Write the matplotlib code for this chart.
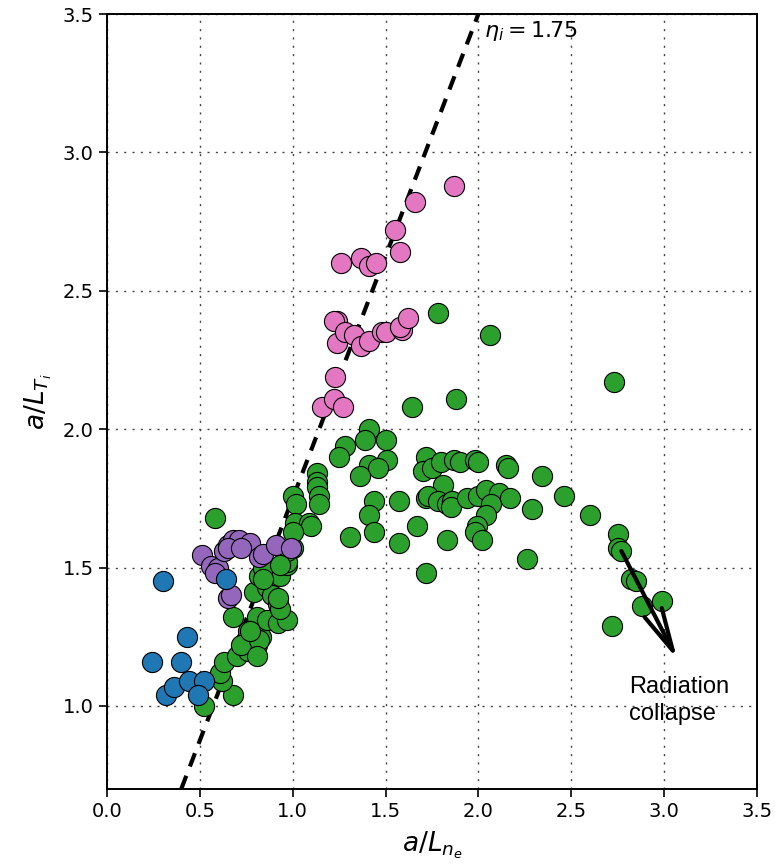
import matplotlib
matplotlib.use("Agg")
import matplotlib.pyplot as plt
import numpy as np

# a/L_ne, a/L_Ti for each group
blue_x = [0.30, 0.43, 0.24, 0.40, 0.32, 0.36, 0.44, 0.52, 0.49, 0.64]
blue_y = [1.45, 1.25, 1.16, 1.16, 1.04, 1.07, 1.09, 1.09, 1.04, 1.46]

purple_x = [0.51, 0.56, 0.60, 0.58, 0.65, 0.67, 0.63, 0.65, 0.68, 0.71, 0.77,
            0.82, 0.84, 0.91, 0.99, 0.65, 0.72]
purple_y = [1.545, 1.505, 1.50, 1.48, 1.39, 1.40, 1.56, 1.58, 1.60, 1.60, 1.59,
            1.54, 1.55, 1.58, 1.57, 1.57, 1.57]

pink_x = [1.87, 1.66, 1.55, 1.58, 1.26, 1.37, 1.41, 1.45, 1.24, 1.22, 1.24, 1.28,
          1.33, 1.37, 1.41, 1.48, 1.50, 1.59, 1.58, 1.62, 1.23, 1.16, 1.22, 1.27]
pink_y = [2.88, 2.82, 2.72, 2.64, 2.60, 2.62, 2.59, 2.60, 2.39, 2.39, 2.31, 2.35,
          2.34, 2.30, 2.32, 2.35, 2.35, 2.36, 2.37, 2.40, 2.19, 2.08, 2.11, 2.08]

green_x = [0.52, 0.68, 0.62, 0.61, 0.63, 0.70, 0.76, 0.75, 0.81, 0.76, 0.83, 0.81,
           0.86, 0.92, 0.97, 0.68, 0.79, 0.86, 0.89, 0.92, 0.93, 0.82, 0.89, 0.93,
           0.97, 1.00, 0.84, 0.72, 0.82, 0.81, 0.77, 0.84, 0.92, 0.58,
           1.00, 1.02, 1.01, 1.09, 1.10, 1.00, 0.97, 0.97, 0.93, 1.13, 1.13, 1.13,
           1.14, 1.14,
           1.41, 1.28, 1.25, 1.39, 1.50, 1.51, 1.41, 1.46, 1.36, 1.72, 1.70, 1.44,
           1.57, 1.41, 1.44, 1.57, 1.31, 1.67, 1.72, 1.72, 1.64, 1.78, 2.06, 1.88,
           2.73, 1.75, 1.80, 1.87, 1.90, 1.98, 2.00, 2.15, 2.16, 2.34, 2.46, 2.60,
           1.81, 1.73, 1.78, 1.83, 1.86, 1.85, 1.94, 2.00, 2.04, 2.11, 2.17, 2.07,
           2.04, 1.99, 1.98, 2.02, 2.29, 1.83, 2.26,
           2.75, 2.75, 2.77, 2.82, 2.85, 2.88, 2.99, 2.72]
green_y = [1.00, 1.04, 1.09, 1.12, 1.16, 1.18, 1.20, 1.24, 1.22, 1.27, 1.25, 1.32,
           1.31, 1.30, 1.31, 1.32, 1.41, 1.43, 1.40, 1.37, 1.35, 1.47, 1.49, 1.47,
           1.51, 1.57, 1.50, 1.22, 1.24, 1.18, 1.27, 1.46, 1.39, 1.68,
           1.76, 1.73, 1.66, 1.66, 1.65, 1.63, 1.52, 1.56, 1.51, 1.84, 1.81, 1.79,
           1.76, 1.73,
           2.00, 1.94, 1.90, 1.96, 1.96, 1.89, 1.87, 1.86, 1.83, 1.90, 1.85, 1.74,
           1.74, 1.69, 1.63, 1.59, 1.61, 1.65, 1.48, 1.75, 2.08, 2.42, 2.34, 2.11,
           2.17, 1.86, 1.88, 1.89, 1.88, 1.89, 1.88, 1.87, 1.86, 1.83, 1.76, 1.69,
           1.80, 1.76, 1.74, 1.73, 1.74, 1.72, 1.75, 1.76, 1.78, 1.77, 1.75, 1.73,
           1.69, 1.65, 1.63, 1.60, 1.71, 1.60, 1.53,
           1.62, 1.57, 1.56, 1.46, 1.45, 1.36, 1.38, 1.29]

eta_i = 1.75
line_x = [0.4, 2.0]

fig = plt.figure(figsize=(7.75, 8.66), dpi=100)
ax = fig.add_axes([0.138, 0.0889, 0.8387, 0.8949])

ax.grid(True, color='#444444', linestyle=(0, (1.5, 4.5)), linewidth=1.0)
ax.set_axisbelow(True)

ax.plot(line_x, [eta_i * v for v in line_x], color='k', lw=3,
        linestyle=(0, (3.4, 2.4)), zorder=2)

kw = dict(s=210, edgecolors='k', linewidths=0.8, zorder=3)
ax.scatter(green_x, green_y, c='#2ca02c', **kw)
ax.scatter(pink_x, pink_y, c='#e377c2', **kw)
ax.scatter(purple_x, purple_y, c='#9467bd', **kw)
ax.scatter(blue_x, blue_y, c='#1f77b4', **kw)

ax.annotate('', xy=(3.07, 1.17), xytext=(2.77, 1.56),
            arrowprops=dict(arrowstyle='->,head_length=1.1,head_width=0.25',
                            lw=3, color='k', mutation_scale=28,
                            shrinkA=0, shrinkB=0), zorder=4)
ax.text(2.81, 1.02, 'Radiation\ncollapse', family='Liberation Sans',
        fontsize=17, va='center', ha='left', linespacing=1.3)
ax.text(2.03, 3.44, r'$\eta_i = 1.75$', fontsize=16, va='center', ha='left')

ax.set_xlim(0, 3.5)
ax.set_ylim(0.7, 3.5)
ax.set_xticks(np.arange(0, 3.51, 0.5))
ax.set_yticks(np.arange(1.0, 3.51, 0.5))
ax.tick_params(labelsize=14, length=6, width=1.2)
for s in ax.spines.values():
    s.set_linewidth(1.4)
ax.set_xlabel(r'$a/L_{n_e}$', fontsize=19, labelpad=6)
ax.set_ylabel(r'$a/L_{T_i}$', fontsize=19, labelpad=6)

fig.savefig('out.png', dpi=100)
